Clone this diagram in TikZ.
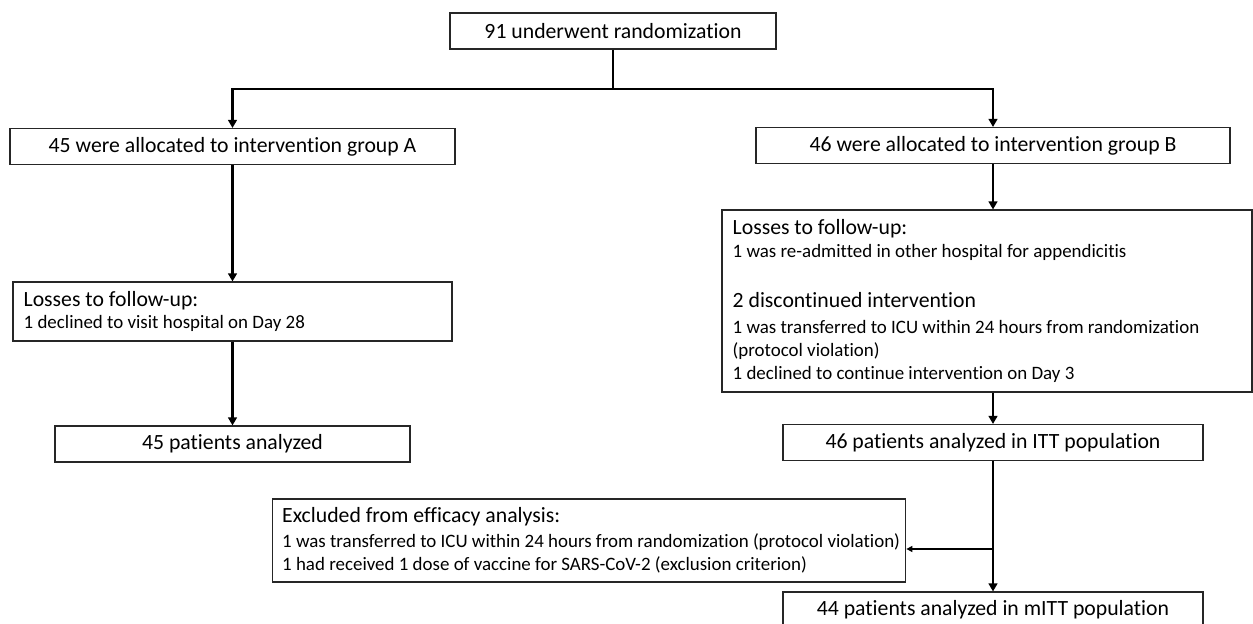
\documentclass[tikz,border=0pt]{standalone}
\usepackage{fontspec}
\setmainfont{Carlito}[Ligatures=NoCommon]
\usetikzlibrary{arrows.meta}

\newcommand{\bigtxt}{\fontsize{16.3}{20}\selectfont}
\newcommand{\smalltxt}{\fontsize{14.2}{17.2}\selectfont}

\begin{document}
\begin{tikzpicture}[
    x=0.75pt, y=-0.75pt,
    box/.style={rectangle, draw=black!85, line width=0.8pt, font=\bigtxt, minimum height=27pt, inner sep=0pt},
    note/.style={rectangle, draw=black!85, line width=0.8pt, align=flush left, inner xsep=8pt, inner ysep=0pt, font=\smalltxt},
    flow/.style={line width=2.2pt, -{Triangle[length=6pt,width=6.5pt]}},
    side/.style={line width=0.8pt, -{Triangle[length=4.5pt,width=4.5pt]}}
  ]
  \useasboundingbox (0,0) rectangle (1253,624);

  \node[box, minimum width=244.5pt] (rand) at (613,31) {91 underwent randomization};
  \node[box, minimum width=333.75pt] (grpA) at (232.5,146.5) {45 were allocated to intervention group A};
  \node[box, minimum width=355.5pt] (grpB) at (993,145.5) {46 were allocated to intervention group B};

  \node[note, text width=313.25pt, minimum height=44.25pt] (lossA) at (232.5,311.5)
    {{\bigtxt Losses to follow-up:}\\
     1 declined to visit hospital on Day 28};
  \node[note, text width=381.5pt, minimum height=136.5pt] (lossB) at (987,301)
    {{\bigtxt Losses to follow-up:}\\
     1 was re-admitted in other hospital for appendicitis\\[20.5pt]
     {\bigtxt 2 discontinued intervention}\\[2pt]
     \mbox{1 was transferred to ICU within 24 hours from randomization}\\
     (protocol violation)\\
     1 declined to continue intervention on Day 3};

  \node[box, minimum width=266.25pt] (anaA) at (232.5,444) {45 patients analyzed};
  \node[box, minimum width=315pt] (itt) at (993,442.5) {46 patients analyzed in ITT population};

  \node[note, inner xsep=7.5pt, text width=460.25pt, minimum height=62.25pt] (excl) at (589,540.5)
    {{\bigtxt Excluded from efficacy analysis:}\\[1.5pt]
     \mbox{1 was transferred to ICU within 24 hours from randomization (protocol violation)}\\
     1 had received 1 dose of vaccine for SARS-CoV-2 (exclusion criterion)};

  \node[box, minimum width=315pt, minimum height=30pt] (mitt) at (993,612)
    {\raisebox{6pt}{44 patients analyzed in mITT population}};

  \coordinate (fork) at (613,89);
  \coordinate (split) at (993,549);

  \draw[line width=2.2pt] (rand.south) -- (fork);
  \draw[flow] (fork) -| (grpA.north);
  \draw[flow] (fork) -| (grpB.north);
  \draw[flow] (grpA.south) -- (lossA.north -| grpA.south);
  \draw[flow] (lossA.south -| anaA.north) -- (anaA.north);
  \draw[flow] (grpB.south) -- (lossB.north -| grpB.south);
  \draw[flow] (lossB.south -| itt.north) -- (itt.north);
  \draw[flow] (itt.south) -- (mitt.north);
  \draw[side] (split) -- (split -| excl.east);
\end{tikzpicture}
\end{document}
